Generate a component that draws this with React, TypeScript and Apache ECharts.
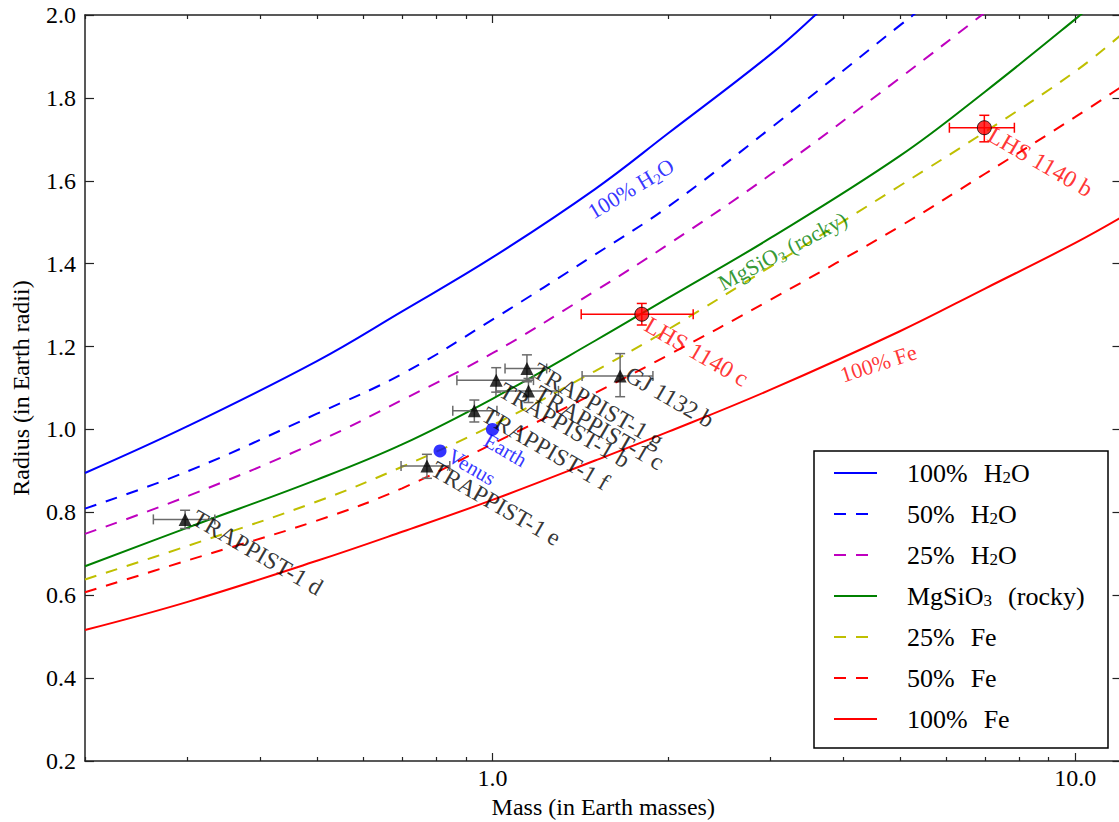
import React, { useEffect, useRef } from "react";
import * as echarts from "echarts";

const FONT = '"Liberation Serif", "Times New Roman", Times, serif';

// ---- composition curves (mass in Earth masses, radius in Earth radii) ----
const h2o100Mass = [0.2, 0.3, 0.5, 0.7, 1, 1.5, 2, 3, 3.58, 4.0];
const h2o100Radius = [0.895, 1.008, 1.165, 1.285, 1.415, 1.58, 1.714, 1.905, 2.0, 2.065];

const h2o50Mass = [0.2, 0.3, 0.5, 0.7, 1, 1.5, 2, 3, 5, 5.27, 6];
const h2o50Radius = [0.809, 0.899, 1.038, 1.134, 1.265, 1.422, 1.537, 1.727, 1.975, 2.0, 2.065];

const h2o25Mass = [0.2, 0.3, 0.5, 0.7, 1, 1.5, 2, 3, 5, 7, 8];
const h2o25Radius = [0.748, 0.839, 0.97, 1.071, 1.184, 1.334, 1.446, 1.615, 1.848, 2.006, 2.07];

const rockyMass = [0.2, 0.3, 0.5, 0.7, 1, 1.5, 2, 3, 5, 7, 10, 11];
const rockyRadius = [0.67, 0.763, 0.879, 0.964, 1.074, 1.214, 1.317, 1.462, 1.66, 1.815, 1.99, 2.04];

const fe25Mass = [0.2, 0.3, 0.5, 0.7, 1, 1.5, 2, 3, 5, 7, 10, 12];
const fe25Radius = [0.638, 0.719, 0.826, 0.91, 1.01, 1.141, 1.241, 1.393, 1.588, 1.718, 1.864, 1.953];

const fe50Mass = [0.2, 0.3, 0.5, 0.7, 1, 1.5, 2, 3, 5, 7, 10, 12];
const fe50Radius = [0.607, 0.684, 0.78, 0.858, 0.965, 1.088, 1.179, 1.313, 1.49, 1.617, 1.754, 1.827];

const fe100Mass = [0.2, 0.3, 0.5, 0.7, 1, 1.5, 2, 3, 5, 7, 10, 12];
const fe100Radius = [0.516, 0.584, 0.683, 0.753, 0.83, 0.925, 0.994, 1.096, 1.237, 1.34, 1.45, 1.512];

// ---- planets with error bars (black triangles) ----
const planetNames = ["TRAPPIST-1 d", "TRAPPIST-1 e", "TRAPPIST-1 f", "TRAPPIST-1 b", "TRAPPIST-1 c", "TRAPPIST-1 g", "GJ 1132 b"];
const planetMass = [0.297, 0.772, 0.931, 1.015, 1.153, 1.146, 1.656];
const planetMassLo = [0.262, 0.697, 0.855, 0.869, 1.014, 1.051, 1.425];
const planetMassHi = [0.334, 0.845, 1.018, 1.176, 1.298, 1.239, 1.885];
const planetRadius = [0.783, 0.912, 1.045, 1.119, 1.093, 1.147, 1.129];
const planetRadiusLo = [0.761, 0.882, 1.018, 1.09, 1.065, 1.115, 1.079];
const planetRadiusHi = [0.805, 0.94, 1.071, 1.149, 1.123, 1.18, 1.183];

// ---- LHS 1140 planets (red circles) ----
const lhsNames = ["LHS 1140 b", "LHS 1140 c"];
const lhsMass = [6.98, 1.804];
const lhsMassLo = [6.08, 1.42];
const lhsMassHi = [7.86, 2.21];
const lhsRadius = [1.728, 1.278];
const lhsRadiusLo = [1.694, 1.252];
const lhsRadiusHi = [1.758, 1.304];

// ---- solar system (blue circles) ----
const solarNames = ["Venus", "Earth"];
const solarMass = [0.813, 1.0];
const solarRadius = [0.948, 1.0];

// ---- axis ticks ----
const xMajorTicks = [1, 10];
const xMinorTicks = [0.2, 0.3, 0.4, 0.5, 0.6, 0.7, 0.8, 0.9, 2, 3, 4, 5, 6, 7, 8, 9];

// ---- styling / placement (kept apart from data) ----
const curves = [
  { name: "100% H2O", rich: "100%{g| }H{s|2}O", mass: h2o100Mass, radius: h2o100Radius, color: "#0000ff", dashed: false },
  { name: "50% H2O", rich: "50%{g| }H{s|2}O", mass: h2o50Mass, radius: h2o50Radius, color: "#0000ff", dashed: true },
  { name: "25% H2O", rich: "25%{g| }H{s|2}O", mass: h2o25Mass, radius: h2o25Radius, color: "#bf00bf", dashed: true },
  { name: "MgSiO3 (rocky)", rich: "MgSiO{s|3}{g| }(rocky)", mass: rockyMass, radius: rockyRadius, color: "#008000", dashed: false },
  { name: "25% Fe", rich: "25%{g| }Fe", mass: fe25Mass, radius: fe25Radius, color: "#bfbf00", dashed: true },
  { name: "50% Fe", rich: "50%{g| }Fe", mass: fe50Mass, radius: fe50Radius, color: "#ff0000", dashed: true },
  { name: "100% Fe", rich: "100%{g| }Fe", mass: fe100Mass, radius: fe100Radius, color: "#ff0000", dashed: false },
];

// curve annotations: anchor in data coordinates, rotation in degrees
const curveNotes = [
  { text: "100% H{s|2}O", at: [1.728, 1.581], rotate: 31, color: "#0000ff" },
  { text: "MgSiO{s|3} (rocky)", at: [3.146, 1.4306], rotate: 28, color: "#008000" },
  { text: "100% Fe", at: [4.594, 1.1592], rotate: 18, color: "#ff0000" },
];

const planetLabelOffsets = [[15, -13.7], [12.3, -9.1], [15.7, -8.4], [11, -2], [14, -10], [14, -10], [13.3, -13.7]];
const lhsLabelOffsets = [[11.7, -5.4], [11, -1.7]];
const solarLabelOffsets = [[14.7, -5.8], [-1.4, 0.3]];

const subRich = {
  s: { fontSize: 15, lineHeight: 12, verticalAlign: "bottom", fontFamily: FONT },
};

function errorBarRenderer(color: string) {
  return (params: any, api: any) => {
    const m = api.value(0);
    const r = api.value(1);
    const l = api.coord([api.value(2), r]);
    const rr = api.coord([api.value(3), r]);
    const b = api.coord([m, api.value(4)]);
    const t = api.coord([m, api.value(5)]);
    const cap = 5;
    const style = { stroke: color, lineWidth: 1.5, fill: null };
    const seg = (x1: number, y1: number, x2: number, y2: number) => ({
      type: "line",
      shape: { x1, y1, x2, y2 },
      style,
    });
    return {
      type: "group",
      children: [
        seg(l[0], l[1], rr[0], rr[1]),
        seg(b[0], b[1], t[0], t[1]),
        seg(l[0], l[1] - cap, l[0], l[1] + cap),
        seg(rr[0], rr[1] - cap, rr[0], rr[1] + cap),
        seg(b[0] - cap, b[1], b[0] + cap, b[1]),
        seg(t[0] - cap, t[1], t[0] + cap, t[1]),
      ],
    };
  };
}

function pointLabels(names: string[], mass: number[], radius: number[], offsets: number[][], color: string, size: number) {
  return names.map((n, i) => ({
    value: [mass[i], radius[i]],
    label: {
      show: true,
      formatter: n,
      position: [offsets[i][0] + 0.5, offsets[i][1] + 0.5],
      align: "left",
      verticalAlign: "top",
      rotate: -30,
      color,
      fontSize: size,
      fontFamily: FONT,
    },
  }));
}

export default function App() {
  const ref = useRef<HTMLDivElement>(null);

  useEffect(() => {
    document.body.style.margin = "0";
    const chart = echarts.init(ref.current!, null, { renderer: "svg" });

    const axisLine = { show: true, onZero: false, lineStyle: { color: "#222", width: 1.5 } };
    const tickStyle = { color: "#222", width: 1.2 };
    const xBase = { type: "log", logBase: 10, min: 0.2, max: 12, gridIndex: 0, splitLine: { show: false } };

    const lineSeries = curves.map((c) => ({
      name: c.name,
      type: "line",
      xAxisIndex: 0,
      yAxisIndex: 0,
      data: c.mass.map((m, i) => [m, c.radius[i]]),
      symbol: "none",
      showSymbol: false,
      smooth: 0.4,
      clip: true,
      silent: true,
      z: 2,
      lineStyle: { color: c.color, width: 2, type: c.dashed ? [12, 10] : "solid" },
      itemStyle: { color: c.color },
    }));

    const option: any = {
      animation: false,
      backgroundColor: "#ffffff",
      textStyle: { fontFamily: FONT },
      grid: { left: 85, top: 15, width: 1036.5, bottom: 61, containLabel: false, outerBoundsMode: "none" },
      legend: {
        orient: "vertical",
        left: 814,
        top: 451,
        selectedMode: false,
        data: curves.map((c) => c.name),
        itemWidth: 43,
        itemHeight: 14,
        itemGap: 15,
        padding: [9, 13, 16, 19],
        borderColor: "#000",
        borderWidth: 1.5,
        borderRadius: 0,
        backgroundColor: "#ffffff",
        itemStyle: { opacity: 0, borderWidth: 0 },
        formatter: (name: string) => {
          const c = curves.find((k) => k.name === name);
          return c ? c.rich : name;
        },
        textStyle: {
          fontFamily: FONT,
          fontSize: 26,
          color: "#000",
          lineHeight: 26,
          width: 188,
          padding: [0, 0, 0, 25],
          rich: {
            s: { fontSize: 17, lineHeight: 12, verticalAlign: "bottom", fontFamily: FONT, color: "#000" },
            g: { width: 16, fontSize: 26, fontFamily: FONT, color: "#000" },
          },
        },
        z: 10,
      },
      xAxis: [
        {
          ...xBase,
          position: "bottom",
          axisLine,
          axisTick: { show: true, inside: true, length: 8, lineStyle: tickStyle, customValues: xMajorTicks },
          minorTick: { show: false },
          axisLabel: {
            show: true,
            customValues: xMajorTicks,
            formatter: (v: number) => Number(v).toFixed(1),
            fontFamily: FONT,
            fontSize: 24,
            color: "#000",
            margin: 5,
          },
          name: "Mass (in Earth masses)",
          nameLocation: "middle",
          nameGap: 33,
          nameTextStyle: { fontFamily: FONT, fontSize: 24, color: "#000" },
        },
        {
          ...xBase,
          position: "top",
          axisLine,
          axisTick: { show: true, inside: true, length: 8, lineStyle: tickStyle, customValues: xMajorTicks },
          axisLabel: { show: false },
        },
        {
          ...xBase,
          position: "bottom",
          axisLine: { show: false },
          axisTick: { show: true, inside: true, length: 4, lineStyle: tickStyle, customValues: xMinorTicks },
          axisLabel: { show: false },
        },
        {
          ...xBase,
          position: "top",
          axisLine: { show: false },
          axisTick: { show: true, inside: true, length: 4, lineStyle: tickStyle, customValues: xMinorTicks },
          axisLabel: { show: false },
        },
      ],
      yAxis: [
        {
          type: "value",
          min: 0.2,
          max: 2.0,
          interval: 0.2,
          position: "left",
          axisLine,
          axisTick: { show: true, inside: true, length: 9, lineStyle: tickStyle },
          axisLabel: {
            formatter: (v: number) => v.toFixed(1),
            fontFamily: FONT,
            fontSize: 24,
            color: "#000",
            margin: 9,
          },
          splitLine: { show: false },
          name: "Radius (in Earth radii)",
          nameLocation: "middle",
          nameGap: 52,
          nameRotate: 90,
          nameTextStyle: { fontFamily: FONT, fontSize: 24, color: "#000" },
        },
        {
          type: "value",
          min: 0.2,
          max: 2.0,
          interval: 0.2,
          position: "right",
          axisLine,
          axisTick: { show: true, inside: true, length: 9, lineStyle: tickStyle },
          axisLabel: { show: false },
          splitLine: { show: false },
        },
      ],
      series: [
        ...lineSeries,
        {
          name: "errors-planets",
          type: "custom",
          xAxisIndex: 0,
          yAxisIndex: 0,
          renderItem: errorBarRenderer("#6b6b6b"),
          encode: { x: 0, y: 1 },
          data: planetNames.map((_, i) => [planetMass[i], planetRadius[i], planetMassLo[i], planetMassHi[i], planetRadiusLo[i], planetRadiusHi[i]]),
          z: 3,
          silent: true,
        },
        {
          name: "errors-lhs",
          type: "custom",
          xAxisIndex: 0,
          yAxisIndex: 0,
          renderItem: errorBarRenderer("#ff0000"),
          encode: { x: 0, y: 1 },
          data: lhsNames.map((_, i) => [lhsMass[i], lhsRadius[i], lhsMassLo[i], lhsMassHi[i], lhsRadiusLo[i], lhsRadiusHi[i]]),
          z: 3,
          silent: true,
        },
        {
          name: "planets",
          type: "scatter",
          symbol: "triangle",
          symbolSize: 13,
          itemStyle: { color: "#000" },
          data: planetNames.map((_, i) => [planetMass[i], planetRadius[i]]),
          z: 4,
          silent: true,
        },
        {
          name: "lhs",
          type: "scatter",
          symbol: "circle",
          symbolSize: 14,
          itemStyle: { color: "#ff0000", borderColor: "#000", borderWidth: 1 },
          data: lhsNames.map((_, i) => [lhsMass[i], lhsRadius[i]]),
          z: 4,
          silent: true,
        },
        {
          name: "solar",
          type: "scatter",
          symbol: "circle",
          symbolSize: 13,
          itemStyle: { color: "#0000ff" },
          data: solarNames.map((_, i) => [solarMass[i], solarRadius[i]]),
          z: 4,
          silent: true,
        },
        {
          name: "labels",
          type: "scatter",
          symbolSize: 1,
          itemStyle: { color: "rgba(0,0,0,0)" },
          z: 5,
          silent: true,
          data: [
            ...pointLabels(planetNames, planetMass, planetRadius, planetLabelOffsets, "#000", 24),
            ...pointLabels(lhsNames, lhsMass, lhsRadius, lhsLabelOffsets, "#ff0000", 24),
            ...pointLabels(solarNames, solarMass, solarRadius, solarLabelOffsets, "#0000ff", 21),
          ],
        },
        {
          name: "curve-notes",
          type: "scatter",
          symbolSize: 1,
          itemStyle: { color: "rgba(0,0,0,0)" },
          z: 5,
          silent: true,
          data: curveNotes.map((n) => ({
            value: n.at,
            label: {
              show: true,
              formatter: n.text,
              position: "inside",
              align: "center",
              verticalAlign: "middle",
              rotate: n.rotate,
              color: n.color,
              fontSize: 22,
              lineHeight: 26,
              fontFamily: FONT,
              rich: { s: { ...subRich.s, color: n.color } },
            },
          })),
        },
      ],
    };

    chart.setOption(option);
    return () => chart.dispose();
  }, []);

  return <div ref={ref} style={{ width: 1119, height: 822 }} />;
}
